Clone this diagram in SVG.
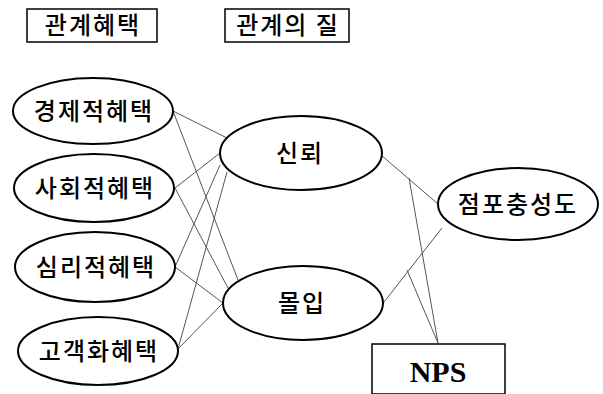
<svg xmlns="http://www.w3.org/2000/svg" width="603" height="394" viewBox="0 0 603 394">
<style>
.n{fill:#fff;stroke:#000;stroke-width:2}
.b{fill:#fff;stroke:#000;stroke-width:1.5}
.t{font-family:"Noto Sans CJK KR","Noto Sans",sans-serif;font-size:24px;font-weight:500;letter-spacing:2px;text-anchor:middle;fill:#000}
.c line{stroke:#555;stroke-width:1}
</style>
<rect width="603" height="394" fill="#fff"/>
<g class="c" id="connectors">
<line x1="173" y1="111" x2="227" y2="138"/>
<line x1="173" y1="111" x2="238" y2="280"/>
<line x1="175" y1="188" x2="220" y2="153"/>
<line x1="175" y1="188" x2="228" y2="288"/>
<line x1="175" y1="267" x2="220" y2="165"/>
<line x1="175" y1="267" x2="223" y2="303"/>
<line x1="178" y1="349" x2="227" y2="172"/>
<line x1="178" y1="349" x2="223" y2="303"/>
<line x1="381" y1="155" x2="438" y2="204"/>
<line x1="384" y1="302" x2="442" y2="228"/>
<line x1="409" y1="178" x2="438" y2="343"/>
<line x1="407" y1="270" x2="438" y2="343"/>
</g>
<g id="h1"><rect class="b" x="27" y="9" width="130" height="33"/><text class="t" x="93" y="34">관계혜택</text></g>
<g id="h2"><rect class="b" x="225" y="9" width="124" height="33"/><text class="t" x="288" y="34">관계의 질</text></g>
<g id="econ"><ellipse class="n" cx="93" cy="111" rx="80" ry="33"/><text class="t" x="94" y="120">경제적혜택</text></g>
<g id="social"><ellipse class="n" cx="94" cy="188" rx="80" ry="34"/><text class="t" x="95" y="197">사회적혜택</text></g>
<g id="psych"><ellipse class="n" cx="95" cy="267" rx="80" ry="35"/><text class="t" x="96" y="276">심리적혜택</text></g>
<g id="custom"><ellipse class="n" cx="98" cy="351" rx="80" ry="34"/><text class="t" x="99" y="360">고객화혜택</text></g>
<g id="trust"><ellipse class="n" cx="301" cy="153" rx="81" ry="37"/><text class="t" x="300" y="162">신뢰</text></g>
<g id="commit"><ellipse class="n" cx="303" cy="303" rx="80" ry="37"/><text class="t" x="302" y="312">몰입</text></g>
<g id="loyalty"><ellipse class="n" cx="518" cy="204" rx="80" ry="36"/><text class="t" x="518" y="213">점포충성도</text></g>
<g id="nps"><rect class="b" x="372" y="344" width="133" height="50"/><text x="438" y="382" font-family="Liberation Serif,serif" font-weight="bold" font-size="30" text-anchor="middle">NPS</text></g>
</svg>
